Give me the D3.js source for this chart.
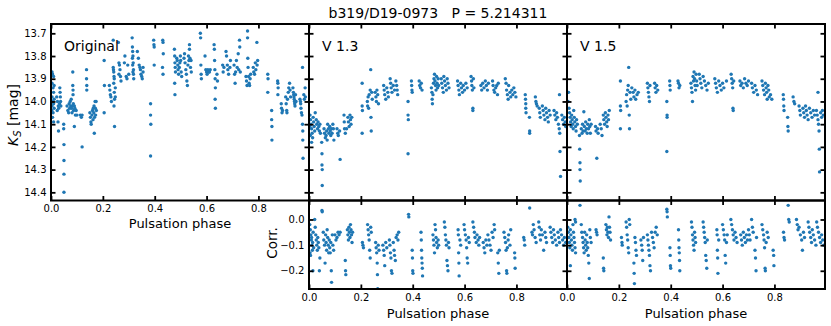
<!DOCTYPE html>
<html>
<head>
<meta charset="utf-8">
<script src="https://cdn.jsdelivr.net/npm/d3@7"></script>
<style>
  body { margin: 0; background: #fff; }
  svg text { font-family: "DejaVu Sans", sans-serif; fill: #000; }
</style>
</head>
<body>
<div id="chart"></div>
<script>
// Light curve of b319/D19-0973: original photometry, two corrected versions
// and the corrections themselves, all folded on the pulsation period.

var phaseTicks = [0, 0.2, 0.4, 0.6, 0.8];
var magTicks = [13.7, 13.8, 13.9, 14.0, 14.1, 14.2, 14.3, 14.4];
var corrTicks = [0, -0.1, -0.2];
var panelNames = ["Original", "V 1.3", "V 1.5"];

// [phase, Ks mag]
var original = [
[0.004,13.87],[0.006,13.88],[0.01,13.89],[0.004,13.92],[0.012,13.93],[0.008,13.94],[0.01,13.96],[0.004,13.98],[0.012,13.99],[0.006,14.0],[0.01,14.01],[0.004,14.02],[0.012,14.03],[0.008,14.05],[0.006,14.07],[0.01,14.09],[0.003,14.04],
[0.022,13.98],[0.025,14.0],[0.028,14.02],[0.03,14.03],[0.024,14.04],[0.027,14.09],[0.029,14.13],[0.033,14.01],[0.035,13.96],[0.036,13.98],[0.037,14.0],[0.038,14.02],[0.034,13.94],
[0.049,14.1],[0.049,14.12],[0.05,14.19],[0.05,14.26],[0.05,14.32],[0.05,14.4],
[0.062,14.02],[0.065,14.04],[0.068,14.05],[0.07,14.01],[0.072,14.03],[0.074,14.0],[0.076,14.02],[0.078,13.99],[0.079,14.03],[0.081,14.05],[0.083,14.02],[0.084,13.87],[0.084,13.93],[0.085,13.95],[0.085,13.97],[0.086,14.01],[0.087,14.04],[0.09,14.11],[0.09,14.02],[0.092,14.03],[0.094,14.06],[0.097,14.04],[0.1,14.06],
[0.113,14.06],[0.117,14.07],[0.12,14.06],[0.12,14.2],
[0.137,13.86],[0.137,13.9],[0.138,13.93],[0.138,13.95],
[0.15,14.05],[0.152,14.07],[0.154,14.09],[0.155,14.1],[0.158,14.06],[0.16,14.04],[0.162,14.08],[0.163,14.03],[0.165,14.05],[0.166,14.02],[0.167,14.14],[0.168,14.07],[0.17,14.0],[0.171,14.03],[0.172,14.06],[0.174,14.0],[0.175,14.04],
[0.205,13.82],[0.206,13.93],[0.205,14.05],
[0.225,13.93],[0.227,13.95],[0.229,13.97],[0.231,13.98],[0.233,14.0],
[0.24,13.73],[0.24,13.85],[0.241,13.86],[0.242,13.87],[0.243,13.89],[0.244,13.9],[0.242,13.92],[0.244,13.96],[0.245,13.99],[0.243,14.02],[0.245,14.11],[0.248,13.94],[0.248,13.98],
[0.26,13.74],[0.262,13.83],[0.264,13.84],[0.266,13.86],[0.262,13.88],[0.268,13.89],[0.27,13.91],
[0.283,13.83],[0.285,13.8],[0.29,13.89],[0.293,13.9],[0.296,13.84],[0.3,13.88],
[0.313,13.72],[0.314,13.76],[0.315,13.78],[0.316,13.8],[0.314,13.81],[0.317,13.83],[0.315,13.84],[0.318,13.86],[0.316,13.87],[0.318,13.88],[0.319,13.9],
[0.333,13.78],[0.337,13.81],[0.34,13.84],[0.343,13.85],[0.345,13.86],[0.347,13.88],[0.35,13.89],[0.352,13.9],[0.355,13.85],[0.355,13.87],
[0.384,14.01],[0.384,14.06],[0.385,14.1],[0.384,14.24],
[0.396,13.73],[0.397,13.75],[0.398,13.76],[0.398,13.84],
[0.431,13.73],[0.432,13.74],[0.433,13.79],[0.43,13.85],[0.432,13.88],
[0.476,13.77],[0.477,13.8],[0.478,13.83],[0.479,13.85],[0.48,13.87],[0.477,13.92],[0.478,13.97],[0.485,13.81],[0.487,13.82],[0.489,13.84],[0.49,13.86],[0.492,13.88],[0.495,13.85],[0.497,13.83],[0.499,13.8],[0.5,13.82],[0.502,13.87],[0.504,13.89],
[0.513,13.81],[0.515,13.79],[0.517,13.83],[0.52,13.86],[0.522,13.88],[0.524,13.91],[0.526,13.93],[0.528,13.84],[0.53,13.8],[0.532,13.82],[0.534,13.75],[0.534,13.77],[0.536,13.81],[0.538,13.85],[0.54,13.82],[0.541,13.87],
[0.576,13.7],[0.577,13.72],[0.578,13.84],[0.579,13.88],[0.58,13.9],
[0.594,13.8],[0.597,13.86],[0.6,13.87],[0.602,13.88],[0.605,13.86],[0.608,13.87],[0.611,13.87],[0.614,13.86],
[0.629,13.75],[0.63,13.77],[0.631,13.82],[0.632,13.86],[0.633,13.9],[0.634,13.94],[0.633,13.99],[0.634,14.03],[0.64,13.88],[0.642,13.91],
[0.662,13.84],[0.664,13.87],[0.667,13.85],[0.675,13.78],[0.677,13.8],[0.68,13.84],[0.682,13.86],[0.685,13.88],[0.69,13.85],[0.692,13.82],
[0.706,13.84],[0.708,13.88],[0.71,13.92],[0.712,13.87],[0.715,13.82],[0.718,13.85],[0.722,13.79],[0.724,13.86],[0.727,13.73],[0.728,13.76],[0.73,13.87],
[0.752,13.89],[0.754,13.91],[0.756,13.93],[0.758,13.69],[0.758,13.72],[0.759,13.81],[0.76,13.85],[0.762,13.89],[0.764,13.92],[0.766,13.93],[0.768,13.9],[0.77,13.88],
[0.78,13.85],[0.782,13.87],[0.785,13.88],[0.788,13.83],[0.79,13.86],[0.794,13.74],[0.795,13.84],[0.797,13.82],
[0.836,13.88],[0.837,13.9],[0.836,13.96],
[0.851,14.04],[0.851,14.08],[0.852,14.11],[0.852,14.17],
[0.874,13.91],[0.875,13.92],[0.876,13.94],[0.875,13.97],
[0.888,14.01],[0.889,14.03],[0.891,14.05],[0.893,14.04],
[0.905,13.98],[0.907,14.01],[0.909,14.04],[0.91,14.05],[0.912,13.99],[0.915,13.96],[0.917,13.94],[0.92,13.92],[0.922,13.95],[0.924,13.98],
[0.933,13.94],[0.935,13.96],[0.936,13.97],[0.937,13.98],[0.938,13.99],[0.939,14.0],[0.94,14.01],[0.941,14.02],[0.943,13.97],[0.945,14.0],
[0.96,13.99],[0.962,14.0],[0.963,14.01],[0.964,14.03],[0.966,14.05],[0.968,14.06],[0.97,13.85],[0.97,14.1],[0.971,14.13],[0.971,14.17],[0.972,14.25],[0.975,13.97],[0.977,13.99],[0.98,13.94],[0.981,13.98]
];

var v13 = [
[0.004,14.06],[0.006,14.08],[0.008,14.1],[0.01,14.12],[0.012,14.14],[0.014,14.16],[0.016,14.07],[0.018,14.09],[0.02,14.11],[0.022,14.13],[0.024,14.05],[0.005,14.15],[0.01,14.18],[0.003,14.11],
[0.028,14.08],[0.03,14.1],[0.033,14.12],[0.035,14.09],[0.038,14.11],[0.04,14.13],[0.042,14.1],[0.044,14.14],
[0.049,14.18],[0.05,14.23],[0.05,14.28],[0.051,14.3],[0.051,14.37],
[0.058,14.12],[0.06,14.14],[0.063,14.16],[0.066,14.15],[0.068,14.13],[0.07,14.17],[0.072,14.1],[0.075,14.12],[0.077,14.14],[0.08,14.11],[0.082,14.13],[0.084,14.15],[0.087,14.12],[0.089,14.14],[0.092,14.1],[0.094,14.12],[0.096,14.17],
[0.108,14.12],[0.111,14.14],[0.113,14.15],[0.118,14.13],[0.12,14.255],
[0.135,14.06],[0.136,14.09],[0.137,14.12],[0.14,14.14],[0.145,14.12],[0.15,14.07],[0.152,14.09],[0.155,14.11],[0.158,14.06],[0.16,14.08],[0.162,14.1],[0.165,14.07],
[0.205,13.92],[0.205,14.02],[0.206,14.04],[0.205,14.14],
[0.225,14.0],[0.226,14.02],[0.228,13.98],[0.23,14.03],[0.232,13.97],[0.236,13.95],[0.238,13.86],[0.239,14.07],[0.24,14.13],[0.242,13.96],[0.244,13.99],
[0.255,13.96],[0.258,13.98],[0.26,14.0],[0.262,13.95],[0.265,13.97],[0.268,14.01],
[0.288,13.93],[0.29,13.95],[0.292,13.97],[0.296,13.99],[0.3,13.94],[0.304,13.96],[0.306,13.98],
[0.313,13.9],[0.315,13.92],[0.317,13.94],[0.32,13.96],[0.325,13.93],[0.33,13.95],[0.335,13.91],[0.338,13.93],[0.34,13.95],[0.342,13.97],
[0.382,14.0],[0.382,14.06],[0.383,14.08],[0.382,14.23],
[0.395,13.91],[0.396,13.93],[0.397,13.95],[0.398,13.96],
[0.425,13.91],[0.427,13.93],[0.43,13.94],[0.433,13.92],[0.436,13.95],
[0.472,13.94],[0.474,13.96],[0.475,13.99],[0.476,14.01],[0.478,13.97],[0.48,13.92],[0.482,13.9],[0.484,13.88],[0.486,13.91],[0.488,13.93],[0.49,13.95],[0.492,13.89],[0.494,13.92],[0.496,13.94],[0.498,13.9],[0.5,13.93],
[0.51,13.9],[0.512,13.92],[0.515,13.94],[0.518,13.96],[0.52,13.89],[0.523,13.91],[0.526,13.93],[0.53,13.95],[0.533,13.9],[0.536,13.92],[0.54,13.94],
[0.573,13.91],[0.575,13.93],[0.578,13.95],[0.58,13.97],[0.585,13.92],[0.588,13.94],[0.592,13.96],[0.595,13.93],[0.6,13.95],[0.605,13.92],[0.61,13.94],
[0.625,13.89],[0.627,13.91],[0.628,13.93],[0.63,13.95],[0.632,14.03],[0.632,14.04],[0.634,13.9],[0.636,13.94],
[0.663,13.93],[0.666,13.95],[0.67,13.92],[0.675,13.94],[0.68,13.91],[0.684,13.93],[0.688,13.95],[0.692,13.92],
[0.708,13.91],[0.71,13.93],[0.713,13.95],[0.716,13.96],[0.72,13.94],[0.724,13.93],[0.727,13.97],[0.73,13.92],
[0.757,13.9],[0.76,13.92],[0.762,13.95],[0.765,13.97],[0.768,13.99],[0.77,13.93],[0.775,13.96],[0.778,13.98],[0.782,13.95],[0.786,13.97],[0.79,13.94],[0.794,13.96],[0.798,13.98],
[0.834,13.97],[0.835,13.99],[0.836,14.01],[0.836,14.03],[0.837,14.05],
[0.85,14.07],[0.851,14.13],[0.851,14.14],
[0.873,13.98],[0.875,14.0],[0.877,14.01],[0.88,14.02],
[0.888,14.03],[0.89,14.05],[0.892,14.07],[0.9,14.02],[0.903,14.04],[0.906,14.06],[0.91,14.08],[0.913,14.03],[0.916,14.05],[0.92,14.07],[0.923,14.09],[0.926,14.04],[0.93,14.06],
[0.945,14.04],[0.948,14.06],[0.952,14.08],[0.955,14.05],[0.958,14.07],[0.962,14.1],[0.965,14.12],[0.966,13.97],[0.967,14.14],[0.968,14.22],[0.97,14.33],[0.975,14.06],[0.978,14.08],[0.982,14.1],[0.985,14.07],[0.988,14.09],[0.99,14.11]
];

var v15 = [
[0.004,14.0],[0.006,13.96],[0.008,14.03],[0.01,14.05],[0.012,14.07],[0.014,14.09],[0.016,14.11],[0.018,14.06],[0.02,14.08],[0.022,14.1],[0.024,14.12],[0.026,14.04],[0.028,14.07],[0.03,14.09],[0.033,14.11],[0.035,14.13],[0.037,14.08],[0.04,14.1],
[0.048,14.15],[0.049,14.21],[0.05,14.27],[0.05,14.3],[0.051,14.35],
[0.055,14.12],[0.058,14.14],[0.06,14.1],[0.062,14.13],[0.065,14.045],[0.067,14.11],[0.07,14.13],[0.072,14.09],[0.075,14.12],[0.078,14.14],[0.08,14.1],[0.083,14.12],[0.086,14.08],[0.088,14.11],[0.09,14.14],[0.093,14.1],
[0.11,14.11],[0.112,14.13],[0.115,14.25],[0.118,14.12],[0.12,14.14],[0.128,14.1],[0.132,14.12],[0.135,14.15],
[0.14,14.06],[0.142,14.08],[0.145,14.1],[0.148,14.05],[0.15,14.07],[0.153,14.09],[0.155,14.11],[0.158,14.06],[0.16,14.08],[0.163,14.04],
[0.206,13.91],[0.206,14.02],[0.207,14.04],[0.206,14.12],
[0.228,14.0],[0.23,13.97],[0.232,14.02],[0.234,13.95],[0.236,13.93],[0.238,13.85],[0.24,14.06],[0.241,14.12],[0.243,13.96],[0.246,13.99],[0.25,13.94],
[0.255,13.96],[0.258,13.98],[0.262,13.95],[0.265,13.99],[0.27,13.97],[0.275,13.96],
[0.31,13.92],[0.312,13.94],[0.314,13.96],[0.316,13.98],[0.318,14.0],[0.32,13.93],
[0.338,13.92],[0.34,13.94],[0.343,13.96],[0.346,13.93],[0.35,13.95],
[0.385,14.0],[0.386,14.06],[0.386,14.07],[0.385,14.22],
[0.396,13.91],[0.397,13.93],[0.398,13.95],
[0.428,13.91],[0.43,13.92],[0.432,13.94],[0.435,13.93],
[0.478,13.92],[0.48,13.94],[0.482,13.96],[0.484,14.0],[0.486,13.89],[0.488,13.91],[0.49,13.87],[0.492,13.9],[0.494,13.93],[0.496,13.95],[0.498,13.88],[0.5,13.91],[0.502,13.93],
[0.51,13.88],[0.513,13.9],[0.516,13.92],[0.52,13.94],[0.525,13.89],[0.53,13.91],[0.535,13.93],[0.54,13.95],[0.545,13.92],
[0.57,13.9],[0.573,13.92],[0.576,13.94],[0.58,13.96],[0.585,13.91],[0.59,13.93],[0.595,13.95],[0.6,13.92],[0.605,13.94],[0.615,13.91],
[0.633,13.88],[0.635,13.9],[0.637,13.92],[0.639,13.94],[0.64,14.03],[0.641,14.04],[0.643,13.91],
[0.667,13.91],[0.67,13.93],[0.675,13.92],[0.68,13.94],[0.685,13.9],[0.69,13.92],[0.695,13.93],[0.7,13.91],
[0.712,13.92],[0.715,13.94],[0.72,13.96],[0.725,13.93],[0.73,13.95],[0.735,13.97],
[0.752,13.91],[0.755,13.93],[0.758,13.95],[0.762,13.97],[0.765,13.92],[0.768,13.94],[0.77,13.96],[0.772,13.99],[0.775,13.93],[0.778,13.95],[0.78,13.98],[0.785,13.97],[0.79,13.99],
[0.834,13.97],[0.835,13.99],[0.836,14.02],[0.837,14.04],
[0.851,14.07],[0.852,14.11],[0.853,14.13],
[0.872,13.98],[0.875,14.0],[0.878,14.01],
[0.895,14.02],[0.898,14.04],[0.9,14.06],[0.91,14.03],[0.913,14.05],[0.916,14.07],[0.92,14.02],[0.923,14.04],[0.926,14.06],[0.93,14.08],[0.935,14.03],[0.94,14.05],[0.945,14.07],[0.95,14.04],[0.955,14.06],
[0.962,14.04],[0.965,14.06],[0.968,14.08],[0.968,13.96],[0.97,14.1],[0.972,14.13],[0.973,14.21],[0.974,14.31],[0.978,14.05],[0.982,14.07],[0.985,14.04],[0.988,14.06]
];

// [phase, correction]
var corr13 = [
[0.003,-0.02],[0.005,-0.04],[0.007,-0.06],[0.009,-0.08],[0.011,-0.1],[0.013,-0.12],[0.006,-0.14],[0.01,-0.07],[0.014,-0.09],[0.016,-0.05],[0.018,-0.11],[0.015,-0.2],[0.004,-0.13],
[0.022,0.0],[0.024,-0.03],[0.026,-0.06],[0.028,-0.08],[0.03,-0.1],[0.032,-0.12],[0.034,-0.07],[0.036,-0.09],[0.038,-0.11],[0.04,-0.2],[0.042,-0.15],
[0.05,0.035],[0.051,0.03],
[0.055,-0.05],[0.057,-0.08],[0.06,-0.1],[0.062,-0.17],[0.064,-0.06],[0.066,-0.09],[0.068,-0.12],[0.07,-0.04],[0.072,-0.07],[0.074,-0.1],[0.076,-0.13],[0.078,-0.08],[0.08,-0.11],[0.082,-0.13],[0.084,-0.09],[0.086,-0.2],[0.087,-0.245],[0.09,-0.06],[0.092,-0.1],[0.095,-0.12],
[0.1,-0.06],[0.104,-0.08],[0.108,-0.07],[0.112,-0.05],[0.116,-0.06],[0.12,-0.05],
[0.14,-0.16],[0.141,-0.2],[0.142,-0.215],
[0.148,-0.04],[0.15,-0.06],[0.152,-0.08],[0.154,-0.03],[0.156,-0.05],[0.158,-0.07],[0.16,-0.02],[0.162,-0.04],[0.164,-0.06],[0.166,-0.09],[0.168,-0.05],
[0.206,-0.09],[0.208,-0.1],[0.21,-0.11],
[0.226,-0.02],[0.228,-0.04],[0.23,-0.06],[0.232,-0.08],[0.234,-0.12],[0.236,-0.15],[0.238,-0.03],[0.24,-0.05],
[0.257,-0.09],[0.259,-0.11],[0.261,-0.13],[0.263,-0.17],[0.264,-0.215],[0.265,-0.27],[0.267,-0.1],[0.27,-0.12],
[0.285,-0.1],[0.288,-0.12],[0.29,-0.14],[0.292,-0.18],[0.296,-0.09],[0.3,-0.11],
[0.31,-0.08],[0.312,-0.1],[0.314,-0.13],[0.316,-0.15],[0.318,-0.2],[0.32,-0.21],[0.325,-0.09],[0.328,-0.12],[0.33,-0.14],[0.333,-0.16],[0.336,-0.07],[0.34,-0.06],[0.343,-0.08],[0.346,-0.05],
[0.384,0.02],[0.385,0.01],
[0.398,-0.12],[0.399,-0.15],[0.4,-0.2],[0.401,-0.21],
[0.432,-0.05],[0.433,-0.08],[0.434,-0.12],[0.435,-0.15],[0.436,-0.17],[0.437,-0.19],[0.438,-0.22],
[0.478,-0.06],[0.48,-0.08],[0.482,-0.1],[0.484,-0.13],[0.486,-0.02],[0.488,-0.04],[0.49,-0.07],[0.492,-0.09],[0.495,-0.11],[0.498,-0.08],[0.5,-0.1],
[0.522,-0.01],[0.524,-0.03],[0.526,-0.06],[0.528,-0.08],[0.53,-0.1],[0.532,-0.16],[0.534,-0.18],[0.536,-0.2],[0.538,-0.09],[0.54,-0.11],
[0.575,-0.04],[0.576,-0.06],[0.577,-0.13],[0.578,-0.17],[0.579,-0.22],[0.582,-0.08],[0.585,-0.1],
[0.598,-0.02],[0.6,-0.04],[0.603,-0.06],[0.606,-0.08],[0.608,-0.11],[0.61,-0.15],[0.612,-0.17],[0.615,-0.07],[0.618,-0.09],
[0.632,-0.01],[0.635,-0.03],[0.638,-0.05],[0.64,-0.07],[0.645,-0.09],[0.648,-0.06],[0.652,-0.08],[0.655,-0.1],[0.658,-0.07],
[0.672,-0.09],[0.675,-0.11],[0.678,-0.13],[0.682,-0.08],[0.686,-0.1],[0.69,-0.06],[0.694,-0.08],[0.698,-0.1],[0.702,-0.12],[0.706,-0.05],[0.71,-0.07],[0.714,-0.02],[0.716,-0.04],
[0.728,-0.13],[0.73,-0.17],[0.732,-0.21],[0.734,-0.12],
[0.752,-0.05],[0.755,-0.07],[0.758,-0.09],[0.76,-0.12],[0.762,-0.2],[0.763,-0.21],[0.765,-0.11],[0.768,-0.08],[0.77,-0.06],[0.775,-0.1],[0.778,-0.04],
[0.793,-0.13],[0.794,-0.15],[0.795,-0.19],
[0.828,-0.07],[0.83,-0.08],[0.832,-0.1],
[0.851,0.045],
[0.86,-0.05],[0.862,-0.06],[0.865,-0.02],[0.868,-0.04],[0.872,-0.07],[0.876,-0.09],
[0.886,-0.01],[0.888,-0.03],[0.89,-0.06],[0.893,-0.08],[0.896,-0.04],[0.9,-0.06],[0.905,-0.12],[0.91,-0.05],[0.913,-0.07],[0.916,-0.09],
[0.93,-0.03],[0.933,-0.05],[0.936,-0.07],[0.94,-0.09],[0.943,-0.04],[0.946,-0.06],[0.95,-0.08],[0.955,-0.1],[0.96,-0.05],[0.963,-0.07],[0.966,-0.09],[0.97,-0.04],[0.974,-0.06],[0.978,-0.08],[0.982,-0.1],[0.985,-0.07],[0.99,-0.09]
];

var corr15 = [
[0.003,-0.03],[0.005,-0.05],[0.007,-0.07],[0.009,-0.09],[0.011,-0.11],[0.013,-0.04],[0.015,-0.06],[0.017,-0.08],[0.019,-0.1],[0.021,-0.12],[0.013,-0.18],[0.023,-0.02],[0.025,-0.05],[0.027,-0.07],[0.029,-0.09],[0.031,-0.11],[0.033,-0.13],[0.031,0.0],[0.033,-0.01],
[0.05,0.055],
[0.055,-0.02],[0.057,-0.05],[0.06,-0.07],[0.062,-0.09],[0.064,-0.11],[0.066,-0.13],[0.068,-0.05],[0.07,-0.08],[0.072,-0.1],[0.074,-0.12],[0.076,-0.06],[0.078,-0.09],[0.08,-0.11],[0.082,-0.14],[0.084,-0.17],[0.086,-0.23],[0.088,-0.04],[0.09,-0.07],[0.093,-0.09],
[0.112,-0.04],[0.114,-0.05],[0.116,-0.06],
[0.14,-0.15],[0.141,-0.19],[0.142,-0.2],
[0.15,-0.02],[0.152,-0.04],[0.154,-0.06],[0.156,-0.03],[0.158,-0.05],[0.16,-0.07],[0.162,0.01],[0.164,-0.03],[0.166,-0.05],[0.168,-0.08],
[0.21,-0.07],[0.212,-0.09],[0.213,-0.1],
[0.228,-0.01],[0.23,-0.03],[0.232,-0.06],[0.234,-0.08],[0.236,-0.11],[0.238,-0.13],[0.24,0.0],[0.242,-0.02],
[0.258,-0.17],[0.259,-0.21],[0.26,-0.25],[0.262,-0.07],[0.264,-0.09],[0.266,-0.12],[0.268,-0.14],
[0.285,-0.08],[0.288,-0.1],[0.29,-0.12],[0.292,-0.16],[0.295,-0.07],
[0.31,-0.06],[0.312,-0.08],[0.314,-0.1],[0.316,-0.12],[0.318,-0.14],[0.32,-0.18],[0.322,-0.2],[0.326,-0.05],[0.33,-0.07],[0.333,-0.09],[0.336,-0.11],[0.34,-0.05],[0.344,-0.03],[0.348,-0.06],
[0.385,0.04],[0.386,0.03],[0.387,0.01],
[0.397,-0.11],[0.398,-0.14],[0.399,-0.18],[0.4,-0.19],
[0.43,-0.04],[0.431,-0.08],[0.432,-0.11],[0.433,-0.13],[0.434,-0.16],[0.435,-0.2],
[0.48,-0.01],[0.482,-0.03],[0.484,-0.06],[0.486,-0.08],[0.488,-0.1],[0.49,-0.12],[0.492,-0.05],[0.494,-0.07],[0.496,-0.09],
[0.525,-0.01],[0.527,-0.03],[0.529,-0.05],[0.531,-0.07],[0.533,-0.09],[0.535,-0.14],[0.537,-0.16],[0.539,-0.19],[0.541,-0.08],
[0.578,-0.04],[0.579,-0.06],[0.58,-0.12],[0.581,-0.15],[0.582,-0.21],[0.585,-0.08],
[0.6,-0.02],[0.603,-0.04],[0.606,-0.06],[0.608,-0.08],[0.61,-0.14],[0.612,-0.17],[0.615,-0.09],[0.618,-0.06],
[0.632,0.0],[0.635,-0.02],[0.638,-0.04],[0.641,-0.06],[0.644,-0.08],[0.648,-0.05],[0.652,-0.07],[0.656,-0.09],
[0.67,-0.06],[0.673,-0.08],[0.676,-0.1],[0.68,-0.05],[0.684,-0.07],[0.688,-0.09],[0.692,-0.06],[0.696,-0.08],[0.7,-0.04],[0.703,-0.06],[0.706,-0.08],[0.712,0.0],[0.715,-0.03],[0.718,-0.05],
[0.725,-0.12],[0.727,-0.15],[0.729,-0.2],[0.731,-0.07],
[0.752,-0.02],[0.755,-0.04],[0.758,-0.06],[0.76,-0.08],[0.762,-0.11],[0.764,-0.19],[0.765,-0.2],[0.768,-0.09],[0.772,-0.05],[0.776,-0.07],
[0.795,-0.12],[0.797,-0.14],[0.798,-0.18],
[0.835,-0.05],[0.837,-0.07],[0.839,-0.08],
[0.853,0.055],
[0.855,0.0],[0.857,-0.01],
[0.885,0.0],[0.888,-0.02],[0.891,-0.04],
[0.895,-0.03],[0.9,-0.06],[0.905,-0.08],[0.908,-0.12],[0.912,-0.05],[0.916,-0.07],
[0.93,-0.01],[0.933,-0.03],[0.936,-0.05],[0.94,-0.07],[0.943,-0.09],[0.946,-0.04],[0.95,-0.06],[0.955,-0.08],[0.96,-0.1],[0.963,-0.01],[0.966,-0.03],[0.97,-0.05],[0.974,-0.07],[0.978,-0.09],[0.982,-0.06],[0.986,-0.08],[0.99,-0.1]
];

var W = 831, H = 326;
var left0 = 51, pw = 258;         // panel left edge and width
var topTop = 24, topBot = 200.5;  // upper row
var botTop = 200.5, botBot = 289; // correction row
var dotColor = "#1f77b4";
var tick = 4.5;

var svg = d3.select("#chart").append("svg")
  .attr("width", W)
  .attr("height", H);

var fmt = d3.format(".1f");

// draws one framed panel with inward ticks on all four sides
function panel(x, y, x0, x1, y0, y1, yTicks, showX, showY, data) {
  var g = svg.append("g");
  var id = "clip" + Math.round(x0) + "_" + Math.round(y0);
  svg.append("clipPath").attr("id", id)
    .append("rect").attr("x", x0).attr("y", y0).attr("width", x1 - x0).attr("height", y1 - y0);

  g.append("g").attr("clip-path", "url(#" + id + ")")
    .selectAll("circle")
    .data(data)
    .enter()
    .append("circle")
    .attr("cx", function(d) { return x(d[0]); })
    .attr("cy", function(d) { return y(d[1]); })
    .attr("r", 1.7)
    .attr("fill", dotColor);

  var axes = [
    [d3.axisBottom(x).tickValues(phaseTicks).tickFormat(showX ? fmt : ""), "translate(0," + y1 + ")"],
    [d3.axisTop(x).tickValues(phaseTicks).tickFormat(""), "translate(0," + y0 + ")"],
    [d3.axisLeft(y).tickValues(yTicks).tickFormat(showY ? fmt : ""), "translate(" + x0 + ",0)"],
    [d3.axisRight(y).tickValues(yTicks).tickFormat(""), "translate(" + x1 + ",0)"]
  ];
  axes.forEach(function(a) {
    var ax = g.append("g")
      .attr("transform", a[1])
      .call(a[0].tickSize(-tick).tickPadding(4.5));
    ax.select(".domain").remove();
    ax.selectAll("line").attr("stroke", "#000").attr("stroke-width", 1.8);
    ax.selectAll("text")
      .attr("font-family", "DejaVu Sans")
      .attr("font-size", 10)
      .attr("fill", "#000");
  });

  g.append("rect")
    .attr("x", x0).attr("y", y0)
    .attr("width", x1 - x0).attr("height", y1 - y0)
    .attr("fill", "none")
    .attr("stroke", "#000")
    .attr("stroke-width", 2);
}

var series = [original, v13, v15];
var corrs = [null, corr13, corr15];

for (var i = 0; i < 3; i++) {
  var x0 = left0 + i * pw, x1 = x0 + pw;
  var x = d3.scaleLinear().domain([0, 0.995]).range([x0, x1]);
  var yMag = d3.scaleLinear().domain([13.659, 14.436]).range([topTop, topBot]);
  panel(x, yMag, x0, x1, topTop, topBot, magTicks, i == 0, i == 0, series[i]);

  svg.append("text")
    .attr("x", x0 + 13)
    .attr("y", 50.5)
    .attr("font-size", 14)
    .text(panelNames[i]);

  if (corrs[i]) {
    var yCorr = d3.scaleLinear().domain([0.074, -0.271]).range([botTop, botBot]);
    panel(x, yCorr, x0, x1, botTop, botBot, corrTicks, true, i == 1, corrs[i]);
    svg.append("text")
      .attr("x", (x0 + x1) / 2)
      .attr("y", 317.5)
      .attr("text-anchor", "middle")
      .attr("font-size", 13)
      .text("Pulsation phase");
  } else {
    svg.append("text")
      .attr("x", (x0 + x1) / 2)
      .attr("y", 228.3)
      .attr("text-anchor", "middle")
      .attr("font-size", 13)
      .text("Pulsation phase");
  }
}

// y labels
var ky = svg.append("text")
  .attr("transform", "translate(18,115) rotate(-90)")
  .attr("text-anchor", "middle")
  .attr("font-size", 14);
ky.append("tspan").attr("font-style", "italic").text("K");
ky.append("tspan").attr("font-style", "italic").attr("font-size", 10).attr("dy", 3).text("S");
ky.append("tspan").attr("dy", -3).text(" [mag]");

svg.append("text")
  .attr("transform", "translate(276.5,243) rotate(-90)")
  .attr("text-anchor", "middle")
  .attr("font-size", 13.5)
  .text("Corr.");

// title
svg.append("text")
  .attr("x", 438)
  .attr("y", 17.5)
  .attr("text-anchor", "middle")
  .attr("font-size", 14)
  .style("white-space", "pre")
  .text("b319/D19-0973   P = 5.214311");
</script>
</body>
</html>
